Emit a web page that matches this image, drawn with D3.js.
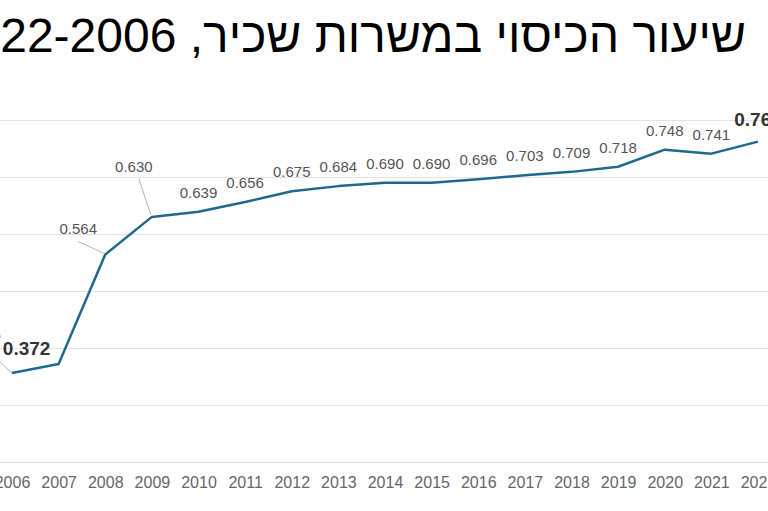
<!DOCTYPE html>
<html><head><meta charset="utf-8">
<script src="https://cdn.jsdelivr.net/npm/d3@7"></script>
<style>
body{margin:0;background:#fff;overflow:hidden}
svg{display:block;font-family:"Liberation Sans",Arial,sans-serif}
</style>
</head><body>
<svg id="chart" width="768" height="511"></svg>
<script>
// ---- data ----
const titleText = "שיעור הכיסוי במשרות שכיר, 2006\u200F-2022";
const years = [2006,2007,2008,2009,2010,2011,2012,2013,2014,2015,2016,2017,2018,2019,2020,2021,2022];
const values = [0.356,0.372,0.564,0.630,0.639,0.656,0.675,0.684,0.690,0.690,0.696,0.703,0.709,0.718,0.748,0.741,0.762];
const valueLabels = ["0.356","0.372","0.564","0.630","0.639","0.656","0.675","0.684","0.690","0.690","0.696","0.703","0.709","0.718","0.748","0.741","0.762"];
const boldYears = [2007,2022];
const yTicks = [0.2,0.3,0.4,0.5,0.6,0.7,0.8];

// ---- layout ----
const W = 768, H = 511;
const svg = d3.select("#chart");
const x = d3.scaleLinear().domain([2006,2022]).range([12,758]);
const y = d3.scaleLinear().domain([0.2,0.8]).range([462,120]);

// label placement tweaks (dx, dy from point; optional leader line)
const labelPos = {
  2006:{dx:-11,dy:-33,anchor:"end",leader:[[0,0],[-14,-13]]},
  2007:{dx:-32,dy:-9,anchor:"middle"},
  2008:{dx:-27,dy:-21,anchor:"middle",leader:[[-1,-1],[-27,-13]]},
  2009:{dx:-18,dy:-45,anchor:"middle",leader:[[-1,-2],[-13,-38]]},
  2022:{dx:0,dy:-16,anchor:"middle"}
};

// title
svg.append("text")
  .attr("x",746).attr("y",52)
  .attr("direction","rtl")
  .attr("text-anchor","start")
  .attr("font-size",48)
  .attr("fill","#000")
  .text(titleText);

// gridlines
svg.append("g").selectAll("line").data(yTicks).join("line")
  .attr("x1",0).attr("x2",W)
  .attr("y1",d=>y(d)).attr("y2",d=>y(d))
  .attr("stroke",(d,i)=> i===0 ? "#d6d6d6" : "#e3e3e3")
  .attr("stroke-width",1)
  .attr("shape-rendering","crispEdges");

// x axis labels
const xAxis = d3.axisBottom(x).tickValues(years).tickFormat(d3.format("d")).tickSize(0).tickPadding(0);
const gx = svg.append("g").attr("transform",`translate(0,${y(0.2)})`).call(xAxis);
gx.select(".domain").remove();
gx.selectAll("text").attr("font-size",16).attr("fill","#666")
  .attr("font-family","'Liberation Sans',Arial,sans-serif")
  .attr("dy",null).attr("y",26);

// line
const pts = years.map((yr,i)=>({yr,v:values[i],lab:valueLabels[i]}));
svg.append("path").datum(pts)
  .attr("fill","none").attr("stroke","#1e6a8d").attr("stroke-width",2.5)
  .attr("stroke-linejoin","round")
  .attr("d",d3.line().x(d=>x(d.yr)).y(d=>y(d.v)));

// leader lines
pts.forEach(d=>{
  const p = labelPos[d.yr];
  if(p && p.leader){
    svg.append("line")
      .attr("x1",x(d.yr)+p.leader[0][0]).attr("y1",y(d.v)+p.leader[0][1])
      .attr("x2",x(d.yr)+p.leader[1][0]).attr("y2",y(d.v)+p.leader[1][1])
      .attr("stroke","#b5b5b5").attr("stroke-width",1);
  }
});

// value labels
svg.append("g").selectAll("text").data(pts).join("text")
  .attr("x",d=>x(d.yr)+((labelPos[d.yr]||{}).dx||0))
  .attr("y",d=>y(d.v)+((labelPos[d.yr]||{}).dy ?? -14))
  .attr("text-anchor",d=>(labelPos[d.yr]||{}).anchor||"middle")
  .attr("font-size",d=>boldYears.includes(d.yr)?19:15)
  .attr("font-weight",d=>boldYears.includes(d.yr)?"bold":"normal")
  .attr("fill",d=>boldYears.includes(d.yr)?"#333":(d.yr===2006?"#999":"#555"))
  .text(d=>d.lab);
</script>
</body></html>
